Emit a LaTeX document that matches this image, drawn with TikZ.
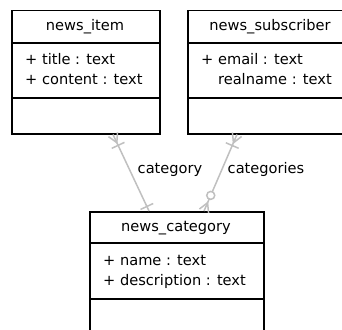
\documentclass[tikz,border=0pt]{standalone}
\usepackage{fontspec}
\setmainfont{DejaVu Sans}
\usetikzlibrary{calc}
\begin{document}
\begin{tikzpicture}[x=1pt,y=-1pt,
  cls/.style={draw=black, line width=1.5pt, fill=white, rectangle, inner sep=0pt, anchor=north west},
  sep/.style={draw=black, line width=1.5pt},
  txt/.style={inner sep=0pt, font=\fontsize{14.6}{17}\selectfont, text height=10.5pt, text depth=3pt},
  attr/.style={txt, anchor=west},
  conn/.style={draw={rgb,255:red,192;green,192;blue,192}, line width=1.5pt},
  lbl/.style={txt}]
\clip (0,0) rectangle (342,329);
\fill[white] (0,0) rectangle (342,329);
% classes
\node[cls, minimum width=148pt, minimum height=123pt] (item) at (11,10) {};
\draw[sep] (11,43) -- (159,43);
\draw[sep] (11,98) -- (159,98);
\node[txt] (itemT) at (85,27) {news\_item};
\node[attr] (itemA1) at (25,61) {+ title : text};
\node[attr] (itemA2) at (25,81) {+ content : text};

\node[cls, minimum width=166pt, minimum height=123pt] (sub) at (187,10) {};
\draw[sep] (187,43) -- (353,43);
\draw[sep] (187,98) -- (353,98);
\node[txt] (subT) at (270,27) {news\_subscriber};
\node[attr] (subA1) at (201,61) {+ email : text};
\node[attr] (subA2) at (201,81) {\phantom{+ }realname : text};

\node[cls, minimum width=174pt, minimum height=123pt] (cat) at (89,211) {};
\draw[sep] (89,243) -- (263,243);
\draw[sep] (89,299) -- (263,299);
\node[txt] (catT) at (176,228) {news\_category};
\node[attr] (catA1) at (103,262) {+ name : text};
\node[attr] (catA2) at (103,282) {+ description : text};

% connector end points on the class borders
\coordinate (a1) at ($(item.south west)+(102,0)$);
\coordinate (b1) at ($(cat.north west)+(60,0)$);
\coordinate (a2) at ($(sub.south west)+(50,0)$);
\coordinate (b2) at ($(cat.north west)+(115,0)$);

% connector 1: news_item -> news_category
\draw[conn] (a1) -- (b1);
\draw[conn] ($(a1)!5pt!90:(b1)$) -- ($(a1)!9pt!(b1)$) -- ($(a1)!5pt!-90:(b1)$);
\coordinate (m1) at ($(a1)!12pt!(b1)$);
\draw[conn] ($(m1)!7pt!90:(b1)$) -- ($(m1)!7pt!-90:(b1)$);
\coordinate (n1) at ($(b1)!5pt!(a1)$);
\draw[conn] ($(n1)!7pt!90:(a1)$) -- ($(n1)!7pt!-90:(a1)$);
\node[lbl] (l1) at (170,170) {category};

% connector 2: news_subscriber -> news_category
\draw[conn] (a2) -- (b2);
\draw[conn] ($(a2)!5pt!90:(b2)$) -- ($(a2)!9pt!(b2)$) -- ($(a2)!5pt!-90:(b2)$);
\coordinate (m2) at ($(a2)!12pt!(b2)$);
\draw[conn] ($(m2)!7pt!90:(b2)$) -- ($(m2)!7pt!-90:(b2)$);
\draw[conn] ($(b2)!5pt!90:(a2)$) -- ($(b2)!9pt!(a2)$) -- ($(b2)!5pt!-90:(a2)$);
\coordinate (o2) at ($(b2)!17pt!(a2)$);
\draw[conn, fill=white] (o2) circle (4pt);
\node[lbl] (l2) at (266,170) {categories};
\end{tikzpicture}
\end{document}
